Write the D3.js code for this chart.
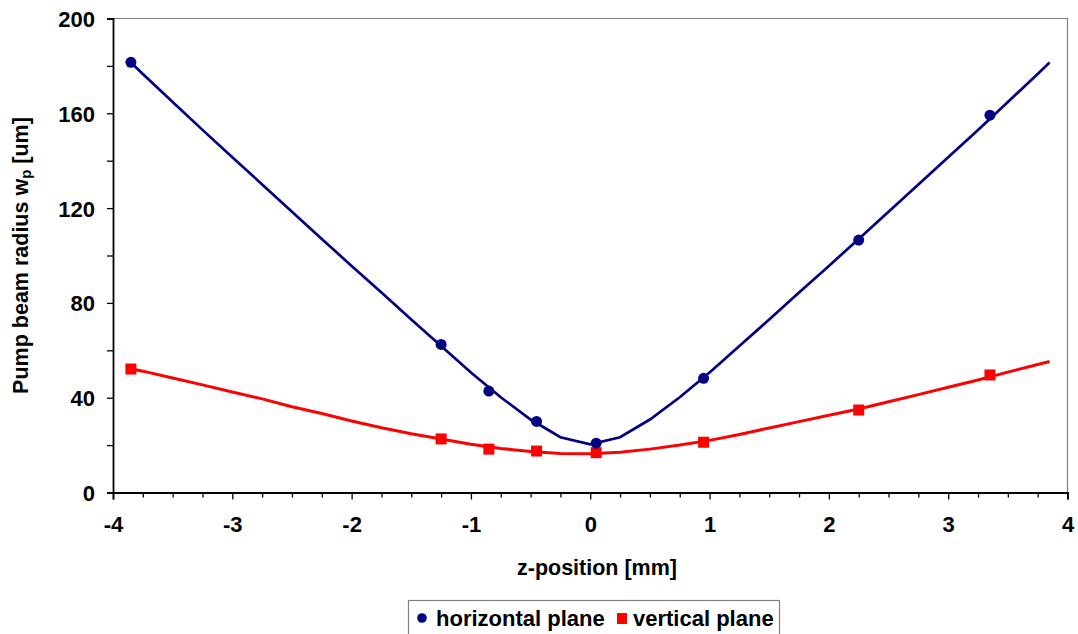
<!DOCTYPE html>
<html>
<head>
<meta charset="utf-8">
<script src="https://cdn.jsdelivr.net/npm/d3@7"></script>
<style>
  html, body { margin: 0; padding: 0; background: #fff; }
  svg { display: block; font-family: "Liberation Sans", Arial, sans-serif; }
</style>
</head>
<body>
<svg id="chart" width="1078" height="634"></svg>
<script>
// Measured beam radii (markers)
const measZ = [-3.85, -1.25, -0.85, -0.45, 0.05, 0.95, 2.25, 3.35];
const horizMeas = [181.5, 62.5, 42.8, 30.0, 20.8, 48.2, 106.5, 159.2];
const vertMeas  = [52.1, 22.6, 18.3, 17.5, 16.8, 21.2, 34.8, 49.6];

// Fitted beam radius curves (drawn as lines)
const fitZ = [-3.85, -3.75, -3.5, -3.25, -3, -2.75, -2.5, -2.25, -2, -1.75, -1.5, -1.25, -1, -0.75, -0.5, -0.25,
              0, 0.25, 0.5, 0.75, 1, 1.25, 1.5, 1.75, 2, 2.25, 2.5, 2.75, 3, 3.25, 3.5, 3.75, 3.85];
const horizFit = [181.4, 176.6, 164.8, 153.0, 141.5, 130.0, 118.5, 107.0, 95.6, 84.4, 73.0, 61.8, 50.6, 40.2, 30.8, 23.3,
                  20.3, 23.3, 30.8, 40.2, 50.6, 61.8, 73.0, 84.4, 95.6, 107.0, 118.5, 130.0, 141.5, 153.0, 164.8, 176.6, 181.4];
const vertFit = [52.2, 51.2, 48.3, 45.4, 42.4, 39.5, 36.2, 33.3, 30.2, 27.3, 24.8, 22.6, 20.4, 18.6, 17.3, 16.5,
                 16.4, 17.0, 18.3, 20.0, 22.0, 24.5, 27.2, 29.9, 32.6, 35.2, 38.3, 41.3, 44.4, 47.5, 50.8, 54.0, 55.3];

// Axis ticks
const xTicks = [-4, -3, -2, -1, 0, 1, 2, 3, 4];
const xTickLabels = ["-4", "-3", "-2", "-1", "0", "1", "2", "3", "4"];
const yTicks = [0, 40, 80, 120, 160, 200];
const yTickLabels = ["0", "40", "80", "120", "160", "200"];

const legendItems = ["horizontal plane", "vertical plane"];

const colH = "#000080";
const colV = "#ff0000";
const FONT = "'Liberation Sans', Arial, sans-serif";

const svg = d3.select("#chart");
const m = { left: 113, right: 1067.5, top: 18.5, bottom: 492.5 };

const x = d3.scaleLinear().domain([-4, 4]).range([m.left, m.right]);
const y = d3.scaleLinear().domain([0, 200]).range([m.bottom, m.top]);

// Plot frame: gray top/right border
svg.append("path")
  .attr("d", `M${m.left},${m.top}H${m.right}V${m.bottom}`)
  .attr("fill", "none").attr("stroke", "#808080").attr("stroke-width", 1.2);

// Minor ticks
const xMinor = d3.range(-4, 4.001, 0.25).filter(v => Math.abs(v - Math.round(v)) > 1e-6);
const yMinor = d3.range(20, 200, 40);

const xAxis = svg.append("g")
  .attr("transform", `translate(0,${m.bottom})`)
  .call(d3.axisBottom(x).tickValues(xTicks).tickSize(7).tickPadding(17)
    .tickFormat((d, i) => xTickLabels[i]));
svg.append("g")
  .attr("transform", `translate(0,${m.bottom})`)
  .call(d3.axisBottom(x).tickValues(xMinor).tickSize(5).tickFormat(""))
  .call(g => g.select(".domain").remove());

const yAxis = svg.append("g")
  .attr("transform", `translate(${m.left},0)`)
  .call(d3.axisLeft(y).tickValues(yTicks).tickSize(6).tickPadding(12)
    .tickFormat((d, i) => yTickLabels[i]));
svg.append("g")
  .attr("transform", `translate(${m.left},0)`)
  .call(d3.axisLeft(y).tickValues(yMinor).tickSize(6).tickFormat(""))
  .call(g => g.select(".domain").remove());

svg.selectAll(".domain").attr("stroke", "#000").attr("stroke-width", 1.8);
svg.selectAll(".tick line").attr("stroke", "#000").attr("stroke-width", 1.3);
svg.selectAll(".tick text")
  .attr("fill", "#000")
  .style("font-size", "22px")
  .style("font-weight", "bold")
  .style("font-family", FONT);
yAxis.selectAll(".tick text").attr("dy", "0.36em");

// Fit curves
const line = d3.line().x(d => x(d[0])).y(d => y(d[1]));
svg.append("path")
  .datum(fitZ.map((z, i) => [z, vertFit[i]]))
  .attr("d", line).attr("fill", "none").attr("stroke", colV).attr("stroke-width", 3);
svg.append("path")
  .datum(fitZ.map((z, i) => [z, horizFit[i]]))
  .attr("d", line).attr("fill", "none").attr("stroke", colH).attr("stroke-width", 2.7);

// Measured markers
svg.append("g").selectAll("rect")
  .data(measZ.map((z, i) => [z, vertMeas[i]]))
  .join("rect")
  .attr("x", d => x(d[0]) - 5.5).attr("y", d => y(d[1]) - 5.5)
  .attr("width", 11).attr("height", 11).attr("fill", colV);
svg.append("g").selectAll("circle")
  .data(measZ.map((z, i) => [z, horizMeas[i]]))
  .join("circle")
  .attr("cx", d => x(d[0])).attr("cy", d => y(d[1]))
  .attr("r", 5.5).attr("fill", colH);

// Axis titles
svg.append("text")
  .attr("x", 597).attr("y", 575)
  .attr("text-anchor", "middle")
  .style("font-size", "21.5px").style("font-weight", "bold")
  .text("z-position [mm]");

const yt = svg.append("text")
  .attr("transform", `translate(28,${(m.top + m.bottom) / 2}) rotate(-90)`)
  .attr("text-anchor", "middle")
  .style("font-size", "21.5px").style("font-weight", "bold");
yt.append("tspan").text("Pump beam radius w");
yt.append("tspan").attr("dy", 3).style("font-size", "15px").text("p");
yt.append("tspan").attr("dy", -3).text(" [um]");

// Legend
const lg = svg.append("g");
lg.append("rect")
  .attr("x", 408.5).attr("y", 600.5).attr("width", 371).attr("height", 40)
  .attr("fill", "#fff").attr("stroke", "#808080").attr("stroke-width", 1.2);
lg.append("circle").attr("cx", 422).attr("cy", 618).attr("r", 4.8).attr("fill", colH);
lg.append("text").attr("x", 436).attr("y", 626)
  .style("font-size", "22px").style("font-weight", "bold").text(legendItems[0]);
lg.append("rect").attr("x", 617).attr("y", 613).attr("width", 10).attr("height", 11).attr("fill", colV);
lg.append("text").attr("x", 633).attr("y", 626)
  .style("font-size", "22px").style("font-weight", "bold").text(legendItems[1]);
</script>
</body>
</html>
